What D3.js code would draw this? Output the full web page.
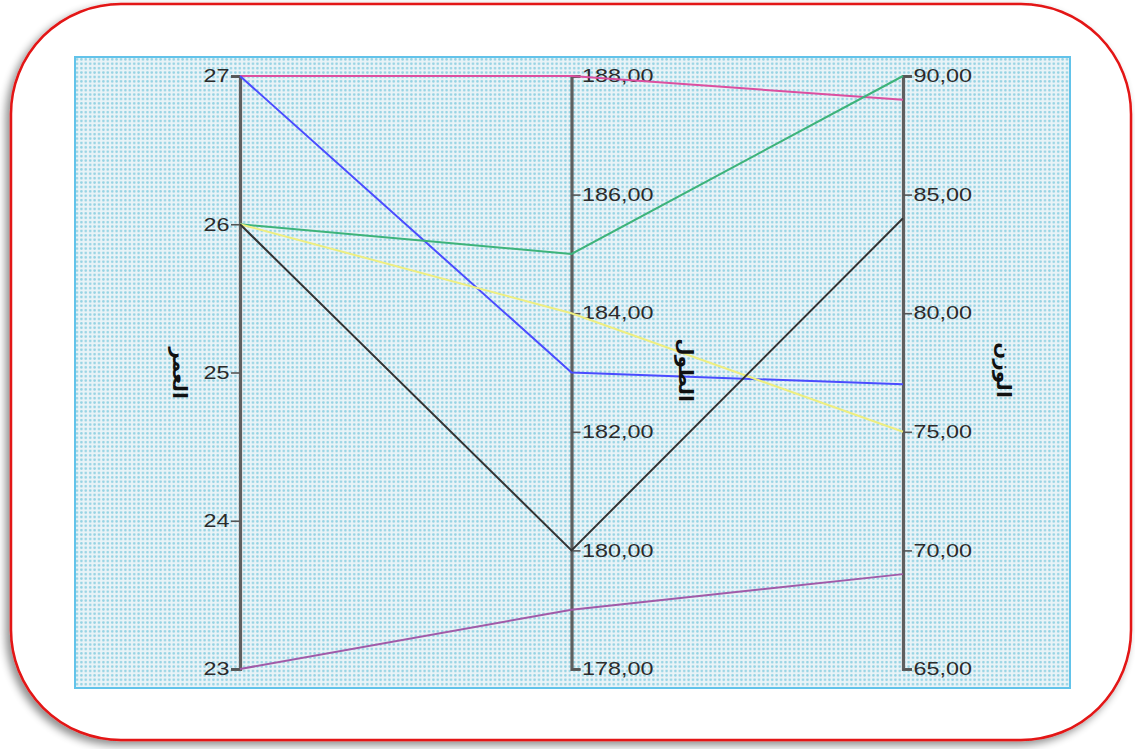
<!DOCTYPE html>
<html>
<head>
<meta charset="utf-8">
<script src="https://cdn.jsdelivr.net/npm/d3@7/dist/d3.min.js"></script>
<style>
  html, body { margin: 0; padding: 0; background: #ffffff; }
  svg { display: block; }
</style>
</head>
<body>
<svg id="chart" width="1135" height="749"></svg>
<script>
// Dimensions (one per parallel axis)
const dimensions = ["العمر", "الطول", "الوزن"];
const ageTicks = [23, 24, 25, 26, 27];
const heightTicks = [178, 180, 182, 184, 186, 188];
const weightTicks = [65, 70, 75, 80, 85, 90];

// One record per case
const caseAge    = [27, 27, 26, 26, 26, 23];
const caseHeight = [188, 183, 185, 184, 180, 179];
const caseWeight = [89, 77, 90, 75, 84, 69];
const caseColors = ["#dc4fa0", "#4a4cff", "#3db37a", "#eeee80", "#333333", "#a15aa8"];

const svg = d3.select("#chart");
const defs = svg.append("defs");

// Soft drop shadow for the framing card
const f = defs.append("filter").attr("id", "shadow")
  .attr("x", "-5%").attr("y", "-5%").attr("width", "110%").attr("height", "110%");
f.append("feGaussianBlur").attr("in", "SourceAlpha").attr("stdDeviation", 4);
f.append("feOffset").attr("dx", -4).attr("dy", 4).attr("result", "b");
f.append("feComponentTransfer").append("feFuncA").attr("type", "linear").attr("slope", 0.45);
const m = f.append("feMerge");
m.append("feMergeNode");
m.append("feMergeNode").attr("in", "SourceGraphic");

// Dotted fill for the plot panel
const pat = defs.append("pattern").attr("id", "dots")
  .attr("width", 4.4).attr("height", 4.4).attr("patternUnits", "userSpaceOnUse");
pat.append("rect").attr("width", 4.4).attr("height", 4.4).attr("fill", "#e9f3f7");
pat.append("circle").attr("cx", 2.2).attr("cy", 2.2).attr("r", 1.3).attr("fill", "#93d2e3");

// Framing card
svg.append("rect")
  .attr("x", 11).attr("y", 4).attr("width", 1120).attr("height", 736)
  .attr("rx", 110).attr("ry", 110)
  .attr("fill", "#ffffff").attr("stroke", "#e31414").attr("stroke-width", 2.5)
  .attr("filter", "url(#shadow)");

// Plot panel
svg.append("rect")
  .attr("x", 75).attr("y", 57).attr("width", 995).attr("height", 631)
  .attr("fill", "url(#dots)").attr("stroke", "#62c3ea").attr("stroke-width", 2);

const yTop = 76, yBottom = 669;
const x = d3.scalePoint().domain(dimensions).range([240, 903]);
const y = {
  "العمر": d3.scaleLinear().domain([23, 27]).range([yBottom, yTop]),
  "الطول": d3.scaleLinear().domain([178, 188]).range([yBottom, yTop]),
  "الوزن": d3.scaleLinear().domain([65, 90]).range([yBottom, yTop])
};

const records = caseAge.map((a, i) => ({
  "العمر": a, "الطول": caseHeight[i], "الوزن": caseWeight[i], color: caseColors[i]
}));

// Axes
const fmt2 = d3.format(".2f");
const comma = v => fmt2(v).replace(".", ",");
const axisDefs = [
  { dim: "العمر", side: -1, gen: d3.axisLeft(y["العمر"]).tickValues(ageTicks).tickFormat(d3.format("d")) },
  { dim: "الطول", side: 1, gen: d3.axisRight(y["الطول"]).tickValues(heightTicks).tickFormat(comma) },
  { dim: "الوزن", side: 1, gen: d3.axisRight(y["الوزن"]).tickValues(weightTicks).tickFormat(comma) }
];

const stretch = 1.3; // wide numeral glyphs
axisDefs.forEach(ad => {
  const g = svg.append("g").attr("transform", `translate(${x(ad.dim)},0)`)
    .call(ad.gen.tickSizeOuter(0).tickSize(9).tickPadding(1));
  g.select(".domain").attr("stroke", "#5f5f5f").attr("stroke-width", 3.2);
  g.selectAll(".tick line").attr("stroke", "#555").attr("stroke-width", 1.6);
  g.selectAll(".tick text")
    .attr("font-family", "Liberation Sans, Arial, sans-serif")
    .attr("font-size", 18).attr("fill", "#2b2b2b")
    .attr("x", ad.side * 10.5 / stretch)
    .attr("transform", `scale(${stretch},1)`);
});

// Case lines
const line = d3.line();
svg.append("g").selectAll("path").data(records).join("path")
  .attr("d", d => line(dimensions.map(k => [x(k), y[k](d[k])])))
  .attr("fill", "none").attr("stroke", d => d.color).attr("stroke-width", 2);

// Axis titles (rotated)
const titlePos = [[180, 373], [686, 370], [1004, 370]];
dimensions.forEach((d, i) => {
  svg.append("text")
    .attr("transform", `translate(${titlePos[i][0]},${titlePos[i][1]}) rotate(90)`)
    .attr("text-anchor", "middle").attr("dy", "0.35em")
    .attr("font-family", "DejaVu Sans, sans-serif").attr("font-weight", "bold")
    .attr("font-size", 20).attr("fill", "#111")
    .text(d);
});
</script>
</body>
</html>
